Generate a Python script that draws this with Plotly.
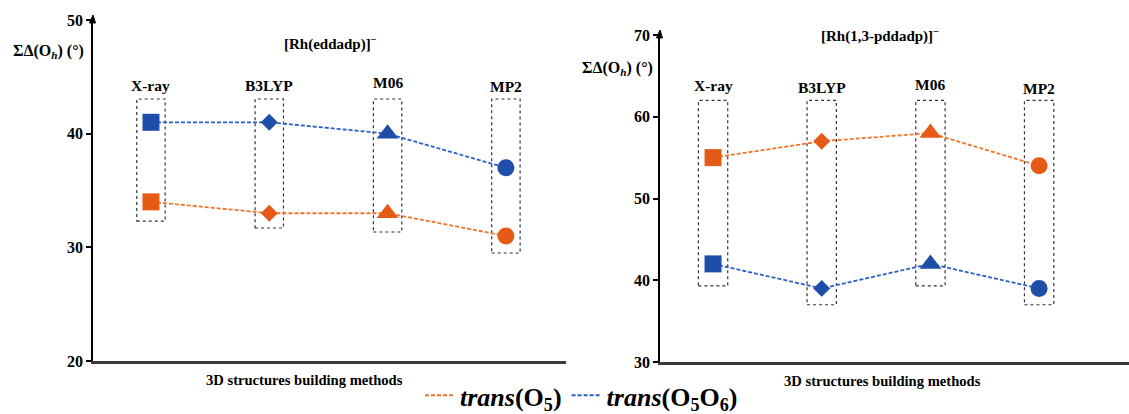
import plotly.graph_objects as go

# ---------------- data ----------------
methods = ["X-ray", "B3LYP", "M06", "MP2"]
symbols = ["square", "diamond", "triangle-up", "circle"]

left_title = "[Rh(eddadp)]<sup>\u2212</sup>"
left_o5 = [34, 33, 33, 31]
left_o5o6 = [41, 41, 40, 37]
left_yticks = [20, 30, 40, 50]

right_title = "[Rh(1,3-pddadp)]<sup>\u2212</sup>"
right_o5 = [55, 57, 58, 54]
right_o5o6 = [42, 39, 42, 39]
right_yticks = [30, 40, 50, 60, 70]

series_names = ["<b><i>trans</i>(O<sub>5</sub>)</b>",
                "<b><i>trans</i>(O<sub>5</sub>O<sub>6</sub>)</b>"]

# ---------------- style ----------------
W, H = 1129, 414
FONT = "Liberation Serif"
ORANGE_M, ORANGE_L = "#E55B16", "#F07428"
BLUE_M, BLUE_L = "#1F4DAA", "#2B5FC4"
marker_sizes = [17, 13, 19, 17]


def px_x(p):
    return p / W


def px_y(p):
    return 1 - p / H


panels = [
    dict(xa="x", ya="y", x_px=93, xdom=[px_x(93), px_x(566)], xr=[-0.49, 3.508],
         top_px=20, ydom=[px_y(361), px_y(20)], yr=[20, 50], ticks=left_yticks,
         o5=left_o5, o5o6=left_o5o6, title=left_title, title_xy=(330, 43),
         ylab_xy=(48, 51), xlab_xy=(304, 380), box_top=43.05,
         box_pad=[1.7, 1.3, 1.65, 1.5], box_hw=0.12,
         lab_y=[85, 85, 82, 86]),
    dict(xa="x2", ya="y2", x_px=660, xdom=[px_x(660), 1.0], xr=[-0.488, 3.827],
         top_px=35, ydom=[px_y(362), px_y(35)], yr=[30, 70], ticks=right_yticks,
         o5=right_o5, o5o6=right_o5o6, title=right_title, title_xy=(880, 36),
         ylab_xy=(617, 68), xlab_xy=(882, 381), box_top=62.0,
         box_pad=[2.7, 2.0, 2.7, 2.0], box_hw=0.135,
         lab_y=[85, 87, 84, 88]),
]

fig = go.Figure()
shapes = []
annotations = []

for p in panels:
    xs = list(range(len(methods)))
    for vals, cm, cl in [(p["o5"], ORANGE_M, ORANGE_L), (p["o5o6"], BLUE_M, BLUE_L)]:
        fig.add_trace(go.Scatter(
            x=xs, y=vals, xaxis=p["xa"], yaxis=p["ya"], mode="lines+markers",
            line=dict(color=cl, width=1.8, dash="4px,2px"),
            marker=dict(symbol=symbols, color=cm, size=marker_sizes, opacity=1,
                        line=dict(width=0)),
            showlegend=False, hoverinfo="x+y"))
    # dotted boxes
    for i in xs:
        lo = min(p["o5"][i], p["o5o6"][i]) - p["box_pad"][i]
        shapes.append(dict(type="rect", xref=p["xa"], yref=p["ya"],
                           x0=i - p["box_hw"], x1=i + p["box_hw"],
                           y0=lo, y1=p["box_top"], layer="below",
                           line=dict(color="#333333", width=1.2, dash="dot")))
        annotations.append(dict(text="<b>%s</b>" % methods[i], xref=p["xa"], x=i,
                                yref="paper", y=px_y(p["lab_y"][i]), showarrow=False,
                                xanchor="center", yanchor="middle",
                                font=dict(family=FONT, size=15.5, color="black")))
    annotations.append(dict(text="<b>%s</b>" % p["title"], xref="paper", yref="paper",
                            x=px_x(p["title_xy"][0]), y=px_y(p["title_xy"][1]),
                            showarrow=False, xanchor="center", yanchor="middle",
                            font=dict(family=FONT, size=15, color="black")))
    annotations.append(dict(text="<b>\u03a3\u0394(O<sub><i>h</i></sub>) (\u00b0)</b>",
                            xref="paper", yref="paper",
                            x=px_x(p["ylab_xy"][0]), y=px_y(p["ylab_xy"][1]),
                            showarrow=False, xanchor="center", yanchor="middle",
                            font=dict(family=FONT, size=16, color="black")))
    annotations.append(dict(text="<b>3D structures building methods</b>",
                            xref="paper", yref="paper",
                            x=px_x(p["xlab_xy"][0]), y=px_y(p["xlab_xy"][1]),
                            showarrow=False, xanchor="center", yanchor="middle",
                            font=dict(family=FONT, size=14.6, color="black")))
    # small arrow head on top of y axis
    ax, ty = p["x_px"], p["top_px"]
    path = "M %f,%f L %f,%f L %f,%f Z" % (
        px_x(ax), px_y(ty - 5), px_x(ax - 3.5), px_y(ty + 3), px_x(ax + 2.5), px_y(ty + 3))
    shapes.append(dict(type="path", xref="paper", yref="paper", path=path,
                       fillcolor="black", line=dict(color="black", width=1)))

# legend-only traces
for name, cl in zip(series_names, [ORANGE_L, BLUE_L]):
    fig.add_trace(go.Scatter(x=[None], y=[None], mode="lines", name=name,
                             line=dict(color=cl, width=2, dash="4px,2px"),
                             showlegend=True))

axis_common = dict(showgrid=False, zeroline=False)
lay = dict(
    width=W, height=H, margin=dict(l=0, r=0, t=0, b=0, autoexpand=False),
    paper_bgcolor="white", plot_bgcolor="white",
    shapes=shapes, annotations=annotations,
    legend=dict(orientation="h", x=px_x(420), xanchor="left", y=-0.012,
                yanchor="bottom", font=dict(family=FONT, size=26, color="black"),
                itemwidth=30, bgcolor="rgba(0,0,0,0)", tracegroupgap=0),
    font=dict(family=FONT, color="black"),
)
for k, p in enumerate(panels):
    sfx = "" if k == 0 else "2"
    lay["xaxis" + sfx] = dict(domain=p["xdom"], range=p["xr"], anchor=p["ya"],
                             showticklabels=False, ticks="", showline=True,
                             linecolor="#3a3a3a", linewidth=2.5, fixedrange=True,
                             automargin=False, **axis_common)
    lay["yaxis" + sfx] = dict(domain=p["ydom"], range=p["yr"], anchor=p["xa"],
                             tickvals=p["ticks"],
                             ticktext=["<b>%d</b>" % t for t in p["ticks"]],
                             ticks="outside", ticklen=5, tickwidth=1.5,
                             tickcolor="black", showline=True, linecolor="black",
                             linewidth=1.5, automargin=False,
                             tickfont=dict(family=FONT, size=16, color="black"),
                             fixedrange=True, **axis_common)
fig.update_layout(**lay)
fig.write_html("out.html")
